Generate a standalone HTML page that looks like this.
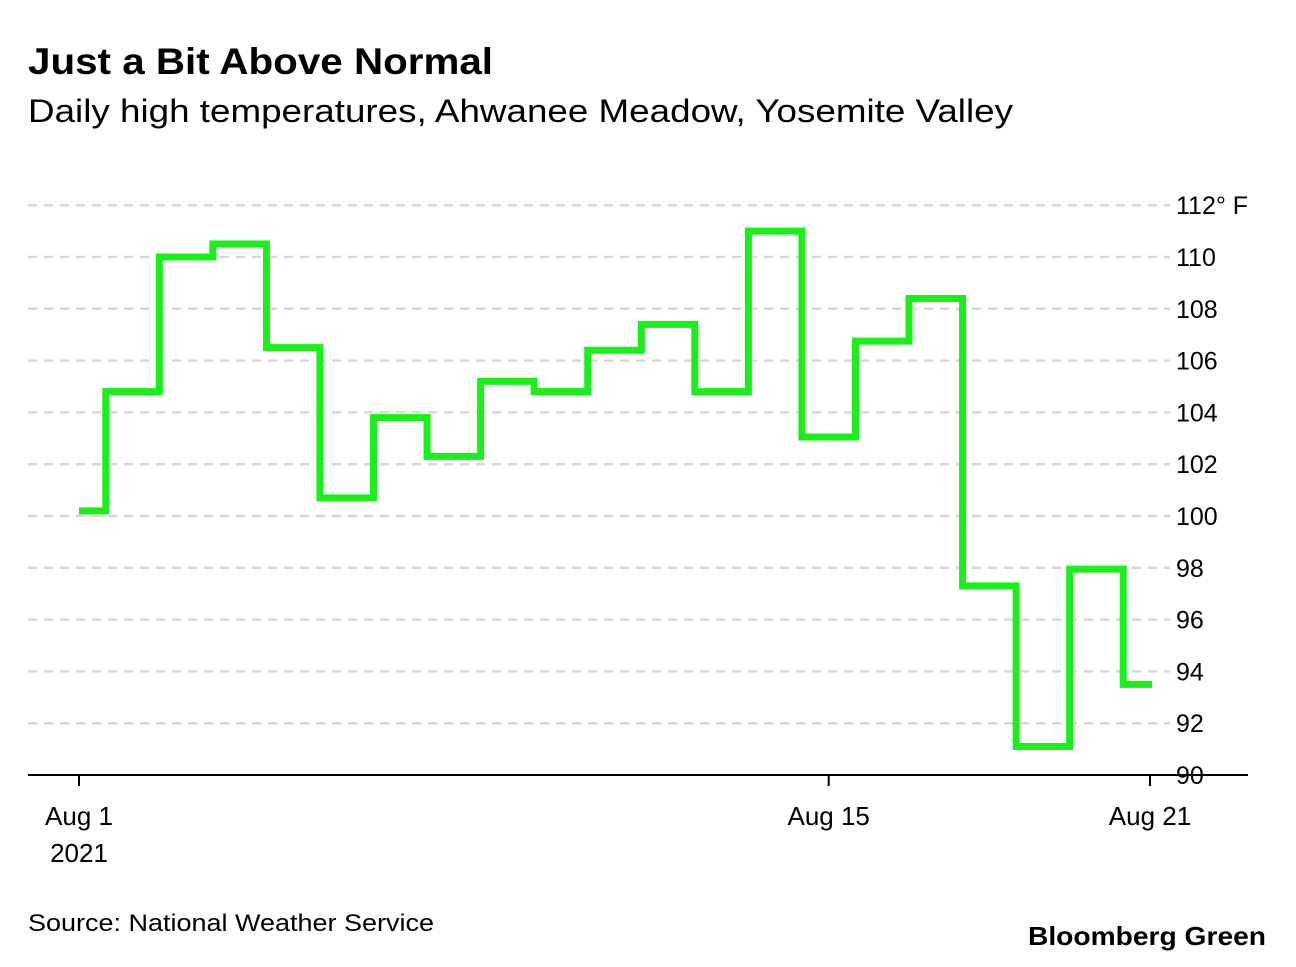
<!DOCTYPE html>
<html><head><meta charset="utf-8"><style>
body{margin:0;background:#fff;font-family:"Liberation Sans",sans-serif;}
svg text{font-family:"Liberation Sans",sans-serif;}
</style></head><body>
<svg width="1296" height="962" xmlns="http://www.w3.org/2000/svg">
<text x="28" y="74" font-size="37" font-weight="bold" fill="#000" textLength="465" lengthAdjust="spacingAndGlyphs">Just a Bit Above Normal</text>
<text x="28" y="122" font-size="32" fill="#000" textLength="985" lengthAdjust="spacingAndGlyphs">Daily high temperatures, Ahwanee Meadow, Yosemite Valley</text>
<g id="grid"></g>
<g id="axis"></g>
<path id="line" fill="none" stroke="#1aef1a" stroke-width="7" stroke-linejoin="miter"/>
<text x="28" y="931" font-size="24" fill="#000" textLength="406" lengthAdjust="spacingAndGlyphs">Source: National Weather Service</text>
<text x="1028" y="945" font-size="26" font-weight="bold" fill="#000" textLength="238" lengthAdjust="spacingAndGlyphs">Bloomberg Green</text>
</svg>
<script>
const days = [1,2,3,4,5,6,7,8,9,10,11,12,13,14,15,16,17,18,19,20,21];
const temps = [100.2,104.8,110,110.5,106.5,100.7,103.8,102.3,105.2,104.8,106.4,107.4,104.8,111,103.05,106.75,108.4,97.3,91.1,97.95,93.5];
const yTicks = [90,92,94,96,98,100,102,104,106,108,110,112];
const xTickDays = [1,15,21];
const xTickLabels = ["Aug 1","Aug 15","Aug 21"];
const ns="http://www.w3.org/2000/svg";
const x = d => 79 + (d-1)*53.55;
const y = v => 775 - (v-90)*25.9;
const grid=document.getElementById('grid'), axis=document.getElementById('axis');
yTicks.forEach(t=>{
  if(t>90){
    const l=document.createElementNS(ns,'line');
    l.setAttribute('x1',28);l.setAttribute('x2',1170);l.setAttribute('y1',y(t));l.setAttribute('y2',y(t));
    l.setAttribute('stroke','#d6d6d6');l.setAttribute('stroke-width',2.5);l.setAttribute('stroke-dasharray','9 7');
    
    
    grid.appendChild(l);
  }
  const tx=document.createElementNS(ns,'text');
  tx.setAttribute('x',1176);tx.setAttribute('y',y(t)+9);tx.setAttribute('font-size',25);
  tx.textContent = t===112 ? '112° F' : String(t);
  
  
  axis.appendChild(tx);
});
const base=document.createElementNS(ns,'line');
base.setAttribute('x1',28);base.setAttribute('x2',1248);base.setAttribute('y1',775);base.setAttribute('y2',775);
base.setAttribute('stroke','#000');base.setAttribute('stroke-width',2);


axis.appendChild(base);
xTickDays.forEach((d,i)=>{
  const t=document.createElementNS(ns,'line');
  t.setAttribute('x1',x(d));t.setAttribute('x2',x(d));t.setAttribute('y1',775);t.setAttribute('y2',786);
  t.setAttribute('stroke','#000');t.setAttribute('stroke-width',2);
  
  
  axis.appendChild(t);
  const tx=document.createElementNS(ns,'text');
  tx.setAttribute('x',x(d));tx.setAttribute('y',825);tx.setAttribute('font-size',26);tx.setAttribute('text-anchor','middle');
  tx.textContent=xTickLabels[i];
  
  
  axis.appendChild(tx);
});
const yr=document.createElementNS(ns,'text');
yr.setAttribute('x',x(1));yr.setAttribute('y',862);yr.setAttribute('font-size',26);yr.setAttribute('text-anchor','middle');
yr.textContent='2021';


axis.appendChild(yr);
const half=53.55/2;
let d='';
days.forEach((dd,i)=>{
  const x0 = i===0 ? x(dd) : x(dd)-half;
  const x1 = i===days.length-1 ? x(dd)+2 : x(dd)+half;
  d += (i===0?'M':'L')+x0+' '+y(temps[i])+' L'+x1+' '+y(temps[i])+' ';
});
document.getElementById('line').setAttribute('d',d);
</script>
</body></html>
